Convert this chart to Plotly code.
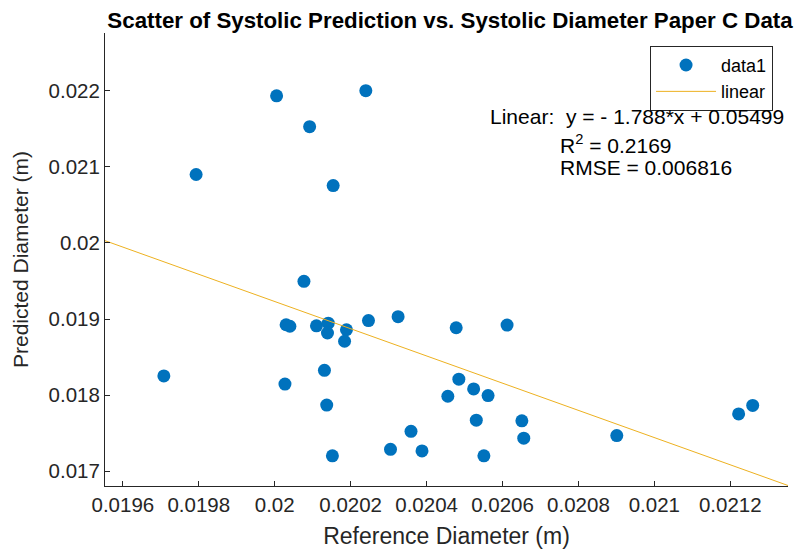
import plotly.graph_objects as go

# Reference (x) and predicted (y) diameters in metres
ref_diameter = [0.020005, 0.020240, 0.020092, 0.019793, 0.020154, 0.020077,
                0.020030, 0.020040, 0.020110, 0.020141, 0.020139, 0.020189,
                0.020184, 0.020247, 0.020325, 0.020478, 0.020612, 0.019708,
                0.020027, 0.020131, 0.020137, 0.020152, 0.020305, 0.020359,
                0.020388, 0.020456, 0.020485, 0.020524, 0.020562, 0.020531,
                0.020651, 0.020656, 0.020551, 0.020901, 0.021222, 0.021259]
pred_diameter = [0.021932, 0.022000, 0.021527, 0.020899, 0.020753, 0.019495,
                 0.018925, 0.018905, 0.018911, 0.018946, 0.018816, 0.018859,
                 0.018708, 0.018979, 0.019031, 0.018885, 0.018920, 0.018252,
                 0.018145, 0.018326, 0.017869, 0.017203, 0.017288, 0.017525,
                 0.017267, 0.017985, 0.018210, 0.018081, 0.017994, 0.017671,
                 0.017662, 0.017435, 0.017203, 0.017469, 0.017753, 0.017865]

fit_slope = -1.788
fit_intercept = 0.05499

x_range = [0.019553, 0.021352]
y_range = [0.016806, 0.022758]

x_ticks = [0.0196, 0.0198, 0.02, 0.0202, 0.0204, 0.0206, 0.0208, 0.021, 0.0212]
x_tick_labels = ["0.0196", "0.0198", "0.02", "0.0202", "0.0204", "0.0206", "0.0208", "0.021", "0.0212"]
y_ticks = [0.017, 0.018, 0.019, 0.02, 0.021, 0.022]
y_tick_labels = ["0.017", "0.018", "0.019", "0.02", "0.021", "0.022"]

fit_x = list(x_range)
fit_y = [fit_slope * v + fit_intercept for v in fit_x]

# the page body has an 8px margin: figure pixel = screen pixel - OFF
OFF = 8
SW, SH = 807, 557
W, H = SW - OFF, SH - OFF
# plot area on screen: x 103..788, y 33..494
L, T = 103 - OFF, 33 - OFF
R, B = W - (788 - OFF), H - (494 - OFF)
pw, ph = W - L - R, H - T - B

def px(xs):
    return (xs - OFF - L) / pw

def py(ys):
    return (H - B - (ys - OFF)) / ph

FONT = "Liberation Sans, Arial, Helvetica, sans-serif"
AX = "#262626"

fig = go.Figure()
fig.add_trace(go.Scatter(x=ref_diameter, y=pred_diameter, mode="markers", name="data1",
                         marker=dict(color="#0072BD", size=13, line=dict(width=0))))
fig.add_trace(go.Scatter(x=fit_x, y=fit_y, mode="lines", name="linear",
                         line=dict(color="#EDB120", width=1)))

fig.update_layout(
    width=W, height=H,
    margin=dict(l=L, r=R, t=T, b=B),
    paper_bgcolor="white", plot_bgcolor="white",
    font=dict(family=FONT, size=20, color=AX),
    title=dict(text="<b>Scatter of Systolic Prediction vs. Systolic Diameter Paper C Data</b>",
               xref="container", yref="container", x=(450 - OFF) / W, y=1 - (20 - OFF) / H,
               xanchor="center", yanchor="middle",
               font=dict(family=FONT, size=22.3, color="#000000")),
    showlegend=True,
    legend=dict(x=px(773), y=py(46), xanchor="right", yanchor="top",
                bordercolor=AX, borderwidth=1, bgcolor="white",
                font=dict(family=FONT, size=18, color="#000000"),
                itemwidth=60, tracegroupgap=0),
)
fig.update_xaxes(range=x_range, tickvals=x_ticks, ticktext=x_tick_labels,
                 showgrid=False, zeroline=False, showline=True, linecolor=AX, linewidth=1,
                 ticks="inside", ticklen=5, tickcolor=AX, mirror=False,
                 tickfont=dict(size=20.5, color=AX),
                 title=dict(text="Reference Diameter (m)", standoff=13,
                            font=dict(size=23, color=AX)))
fig.update_yaxes(range=y_range, tickvals=y_ticks, ticktext=y_tick_labels,
                 showgrid=False, zeroline=False, showline=True, linecolor=AX, linewidth=1,
                 ticks="inside", ticklen=5, tickcolor=AX, mirror=False,
                 tickfont=dict(size=20.5, color=AX),
                 title=dict(text="Predicted Diameter (m)", standoff=14,
                            font=dict(size=21, color=AX)))

ann_font = dict(family=FONT, size=21, color="#000000")
fig.add_annotation(text="Linear:  y = - 1.788*x + 0.05499", xref="paper", yref="paper",
                   x=px(487), y=py(118), xanchor="left", yanchor="middle",
                   showarrow=False, font=ann_font)
fig.add_annotation(text="R<sup>2</sup> = 0.2169", xref="paper", yref="paper",
                   x=px(557), y=py(146), xanchor="left", yanchor="middle",
                   showarrow=False, font=ann_font)
fig.add_annotation(text="RMSE = 0.006816", xref="paper", yref="paper",
                   x=px(557), y=py(170), xanchor="left", yanchor="middle",
                   showarrow=False, font=ann_font)

fig.write_html("out.html")
